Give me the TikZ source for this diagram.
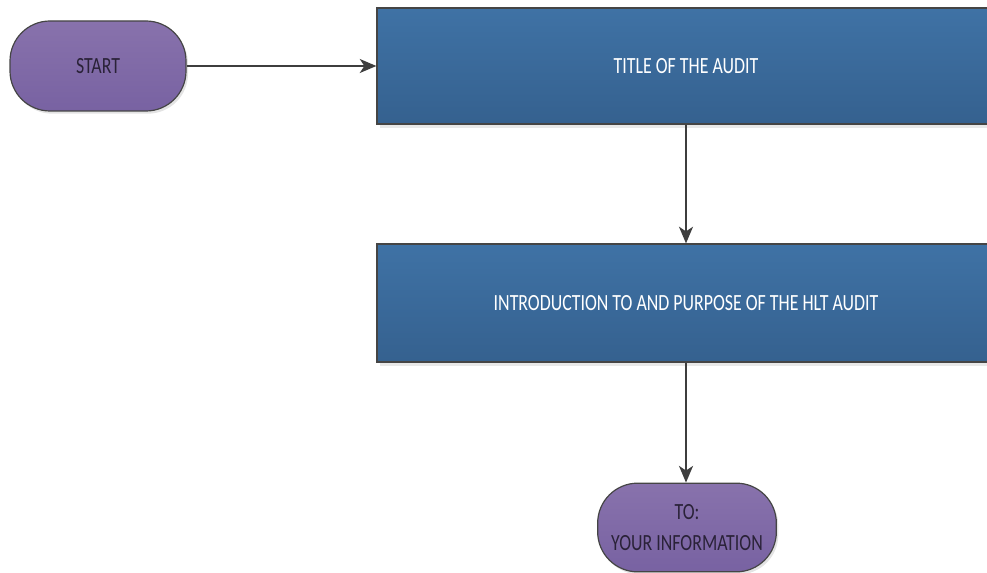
\documentclass[tikz,border=0pt]{standalone}
\usepackage{fontspec}
\setmainfont[FakeStretch=0.77]{Carlito}
\usetikzlibrary{arrows.meta,shadows}
\definecolor{termtop}{HTML}{8872AC}
\definecolor{termbot}{HTML}{7862A2}
\definecolor{steptop}{HTML}{3F72A5}
\definecolor{stepbot}{HTML}{35618F}
\definecolor{edgegray}{HTML}{454545}
\definecolor{linkgray}{HTML}{3E3E3E}
\definecolor{termtext}{HTML}{2A2238}
\tikzset{
  label font/.style={font=\fontsize{17.4}{23}\selectfont},
  terminal/.style={draw=edgegray, line width=0.9pt, rounded corners=30pt,
    top color=termtop, bottom color=termbot, text=termtext, align=center,
    label font, inner sep=0pt,
    drop shadow={shadow xshift=1.5pt, shadow yshift=-2pt, fill=black!18, opacity=0.6}},
  process/.style={draw=edgegray, line width=0.9pt,
    top color=steptop, bottom color=stepbot, text=white, align=center,
    label font, inner sep=0pt,
    drop shadow={shadow xshift=2pt, shadow yshift=-3pt, fill=black!15, opacity=0.6}},
  link/.style={draw=linkgray, line width=1.5pt,
    -{Stealth[length=12.5pt, width=10.5pt, inset=3.5pt]}}
}
\begin{document}
\begin{tikzpicture}[x=0.75pt, y=-0.75pt]
  \useasboundingbox (0,0) rectangle (987,573);
  \clip (0,0) rectangle (987,573);

  % terminators and process steps
  \node[terminal, minimum width=132pt, minimum height=67.5pt] (start) at (98,66) {START};
  \node[process, minimum width=463.5pt, minimum height=87pt] (title) at (686,66) {TITLE OF THE AUDIT};
  \node[process, minimum width=463.5pt, minimum height=88.5pt] (intro) at (686,303) {INTRODUCTION TO AND PURPOSE OF THE HLT AUDIT};
  \node[terminal, minimum width=134pt, minimum height=66.5pt] (finish) at (687,527.5) {TO:\\YOUR INFORMATION};

  % connectors
  \draw[link] (start.east) -- (title.west);
  \draw[link] (title.south -| 686,0) -- (intro.north -| 686,0);
  \draw[link] (intro.south -| 686,0) -- (finish.north -| 686,0);
\end{tikzpicture}
\end{document}
